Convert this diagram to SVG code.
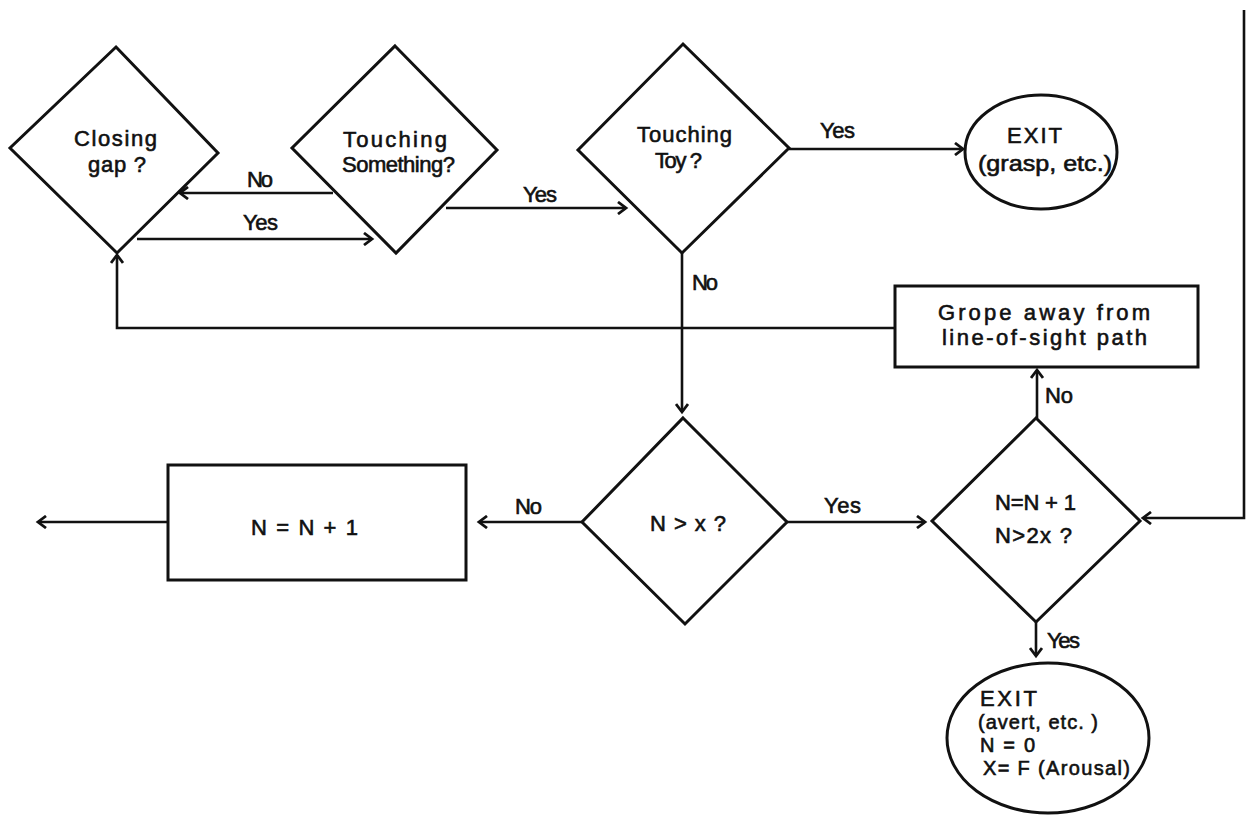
<svg xmlns="http://www.w3.org/2000/svg" width="1246" height="815" viewBox="0 0 1246 815">
<style>
.s{fill:none;stroke:#111;stroke-width:3;stroke-linejoin:miter}
.c{fill:none;stroke:#111;stroke-width:2.6}
text{font-family:"Liberation Sans",Arial,sans-serif;font-size:22px;fill:#111;stroke:#111;stroke-width:0.6}
.sm{font-size:20px}
</style>
<defs>
<marker id="ah" markerWidth="14" markerHeight="14" refX="11" refY="7" orient="auto" markerUnits="userSpaceOnUse">
<path d="M3,1 L11,7 L3,13" fill="none" stroke="#111" stroke-width="2.8"/>
</marker>
</defs>
<rect width="1246" height="815" fill="#fff"/>

<g id="closing-gap">
<polygon class="s" points="116,47 218,153 117,253 10,148"/>
<text x="74" y="146" textLength="83" lengthAdjust="spacing">Closing</text>
<text x="88" y="172" textLength="58" lengthAdjust="spacing">gap ?</text>
</g>

<g id="touching-something">
<polygon class="s" points="395,46 497,150 396,253 292,148"/>
<text x="343" y="147" textLength="104" lengthAdjust="spacing">Touching</text>
<text x="342" y="172" textLength="113" lengthAdjust="spacing">Something?</text>
</g>

<g id="touching-toy">
<polygon class="s" points="683,44 789,148 682,253 578,150"/>
<text x="637" y="142" textLength="95" lengthAdjust="spacing">Touching</text>
<text x="655" y="168" textLength="47" lengthAdjust="spacing">Toy ?</text>
</g>

<g id="exit-grasp">
<ellipse class="s" cx="1041" cy="152" rx="76" ry="57"/>
<text x="1007" y="143" textLength="55" lengthAdjust="spacing">EXIT</text>
<text x="978" y="171" textLength="134" lengthAdjust="spacingAndGlyphs">(grasp, etc.)</text>
</g>

<g id="grope">
<rect class="s" x="895" y="286" width="303" height="81"/>
<text x="938" y="320" textLength="212" lengthAdjust="spacing">Grope  away  from</text>
<text x="942" y="345" textLength="205" lengthAdjust="spacing">line-of-sight path</text>
</g>

<g id="n-gt-x">
<polygon class="s" points="683,418 787,522 685,624 582,522"/>
<text x="650" y="531" textLength="76" lengthAdjust="spacing">N &gt; x ?</text>
</g>

<g id="n-gt-2x">
<polygon class="s" points="1036,418 1140,521 1036,622 932,521"/>
<text x="995" y="510" textLength="81" lengthAdjust="spacing">N=N + 1</text>
<text x="995" y="543" textLength="77" lengthAdjust="spacing">N&gt;2x ?</text>
</g>

<g id="n-plus-1">
<rect class="s" x="168" y="465" width="298" height="115"/>
<text x="251" y="535" textLength="107" lengthAdjust="spacing">N = N + 1</text>
</g>

<g id="exit-avert">
<ellipse class="s" cx="1048" cy="738" rx="101" ry="75"/>
<text x="980" y="706" textLength="57" lengthAdjust="spacing">EXIT</text>
<text class="sm" x="978" y="729" textLength="120" lengthAdjust="spacing">(avert, etc. )</text>
<text class="sm" x="980" y="752" textLength="55" lengthAdjust="spacing">N = 0</text>
<text class="sm" x="983" y="775" textLength="147" lengthAdjust="spacing">X= F (Arousal)</text>
</g>

<g id="connectors">
<line class="c" x1="333" y1="193" x2="180" y2="193" marker-end="url(#ah)"/>
<text x="247" y="187" textLength="26" lengthAdjust="spacing">No</text>
<line class="c" x1="137" y1="239" x2="372" y2="239" marker-end="url(#ah)"/>
<text x="243" y="230" textLength="35" lengthAdjust="spacing">Yes</text>
<line class="c" x1="446" y1="208" x2="626" y2="208" marker-end="url(#ah)"/>
<text x="523" y="202" textLength="34" lengthAdjust="spacing">Yes</text>
<line class="c" x1="789" y1="149" x2="963" y2="149" marker-end="url(#ah)"/>
<text x="820" y="138" textLength="35" lengthAdjust="spacing">Yes</text>
<line class="c" x1="682" y1="253" x2="682" y2="412" marker-end="url(#ah)"/>
<text x="692" y="290" textLength="26" lengthAdjust="spacing">No</text>
<polyline class="c" points="895,328 117,328 117,255" marker-end="url(#ah)"/>
<line class="c" x1="787" y1="522" x2="925" y2="522" marker-end="url(#ah)"/>
<text x="824" y="513" textLength="37" lengthAdjust="spacing">Yes</text>
<line class="c" x1="582" y1="522" x2="479" y2="522" marker-end="url(#ah)"/>
<text x="515" y="514" textLength="27" lengthAdjust="spacing">No</text>
<line class="c" x1="168" y1="522" x2="38" y2="522" marker-end="url(#ah)"/>
<polyline class="c" points="1244,10 1244,518 1143,518" marker-end="url(#ah)"/>
<line class="c" x1="1037" y1="418" x2="1037" y2="370" marker-end="url(#ah)"/>
<text x="1045" y="403" textLength="28" lengthAdjust="spacing">No</text>
<line class="c" x1="1036" y1="622" x2="1036" y2="656" marker-end="url(#ah)"/>
<text x="1047" y="648" textLength="33" lengthAdjust="spacing">Yes</text>
</g>
</svg>
